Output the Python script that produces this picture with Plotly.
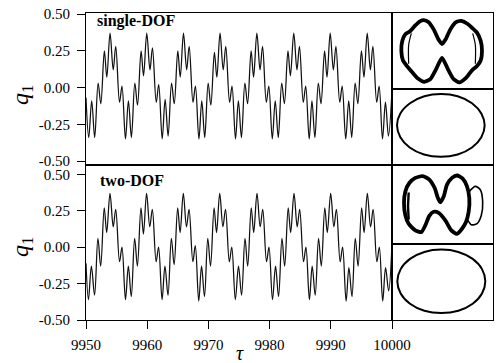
import plotly.graph_objects as go

# ---------------- data ----------------
tau_single = [
    9950.00, 9950.45, 9950.93, 9951.42, 9951.98, 9952.42, 9953.00, 9953.40, 9953.93, 9954.45, 9954.86, 9955.48, 9955.88, 9956.45,
    9956.93, 9957.42, 9957.98, 9958.42, 9959.00, 9959.40, 9959.93, 9960.45, 9960.86, 9961.48, 9961.88, 9962.45,
    9962.93, 9963.42, 9963.98, 9964.42, 9965.00, 9965.40, 9965.93, 9966.45, 9966.86, 9967.48, 9967.88, 9968.45,
    9968.92, 9969.40, 9969.96, 9970.40, 9970.98, 9971.38, 9971.90, 9972.42, 9972.84, 9973.46, 9973.86, 9974.43,
    9974.90, 9975.40, 9975.96, 9976.40, 9976.98, 9977.38, 9977.92, 9978.44, 9978.85, 9979.46, 9979.87, 9980.44,
    9980.92, 9981.42, 9981.98, 9982.42, 9983.00, 9983.40, 9983.95, 9984.47, 9984.88, 9985.50, 9985.90, 9986.47,
    9986.92, 9987.40, 9987.96, 9988.40, 9988.98, 9989.38, 9989.90, 9990.42, 9990.84, 9991.46, 9991.86, 9992.44,
    9992.93, 9993.42, 9993.98, 9994.42, 9995.00, 9995.42, 9995.95, 9996.47, 9996.88, 9997.50, 9997.90, 9998.45,
    9998.93, 9999.42, 10000.00,
]
q_single = [
    -0.07, -0.34, -0.09, -0.34, 0.03, -0.11, 0.25, 0.07, 0.37, 0.12, 0.28, -0.10, 0.01, -0.35,
    -0.09, -0.34, 0.03, -0.12, 0.25, 0.08, 0.37, 0.12, 0.27, -0.10, 0.02, -0.35,
    -0.08, -0.33, 0.03, -0.11, 0.25, 0.07, 0.37, 0.12, 0.28, -0.10, 0.01, -0.35,
    -0.09, -0.34, 0.03, -0.12, 0.24, 0.07, 0.37, 0.12, 0.28, -0.10, 0.01, -0.35,
    -0.09, -0.34, 0.03, -0.11, 0.25, 0.07, 0.37, 0.12, 0.28, -0.10, 0.01, -0.35,
    -0.09, -0.34, 0.03, -0.11, 0.25, 0.08, 0.37, 0.12, 0.28, -0.10, 0.01, -0.35,
    -0.09, -0.34, 0.03, -0.11, 0.25, 0.07, 0.37, 0.12, 0.28, -0.10, 0.01, -0.35,
    -0.09, -0.34, 0.03, -0.11, 0.25, 0.07, 0.37, 0.12, 0.28, -0.10, 0.01, -0.35,
    -0.10, -0.33, -0.02,
]

tau_two = [
    9950.00, 9950.40, 9950.88, 9951.40, 9951.95, 9952.40, 9952.98, 9953.38, 9953.92, 9954.45, 9954.86, 9955.48, 9955.88, 9956.45,
    9956.92, 9957.40, 9957.95, 9958.40, 9958.98, 9959.38, 9959.90, 9960.42, 9960.84, 9961.46, 9961.86, 9962.43,
    9962.90, 9963.40, 9963.95, 9964.40, 9964.98, 9965.38, 9965.90, 9966.42, 9966.84, 9967.46, 9967.86, 9968.42,
    9968.88, 9969.36, 9969.90, 9970.35, 9970.93, 9971.33, 9971.85, 9972.37, 9972.80, 9973.42, 9973.82, 9974.40,
    9974.92, 9975.42, 9975.98, 9976.42, 9977.00, 9977.40, 9977.94, 9978.46, 9978.88, 9979.50, 9979.90, 9980.47,
    9980.97, 9981.46, 9982.02, 9982.46, 9983.04, 9983.44, 9983.99, 9984.51, 9984.92, 9985.54, 9985.94, 9986.50,
    9986.96, 9987.45, 9988.00, 9988.45, 9989.02, 9989.43, 9989.98, 9990.50, 9990.92, 9991.53, 9991.93, 9992.50,
    9992.96, 9993.46, 9994.00, 9994.46, 9995.04, 9995.44, 9995.97, 9996.50, 9996.92, 9997.53, 9997.93, 9998.48,
    9998.95, 9999.45, 10000.00,
]
q_two = [
    -0.11, -0.36, -0.13, -0.33, 0.06, -0.13, 0.27, 0.10, 0.37, 0.14, 0.26, -0.10, 0.00, -0.36,
    -0.13, -0.34, 0.06, -0.13, 0.27, 0.09, 0.37, 0.14, 0.26, -0.10, 0.00, -0.36,
    -0.13, -0.33, 0.06, -0.12, 0.27, 0.10, 0.37, 0.14, 0.26, -0.10, 0.01, -0.37,
    -0.13, -0.34, 0.06, -0.13, 0.27, 0.10, 0.37, 0.14, 0.26, -0.10, 0.00, -0.36,
    -0.13, -0.33, 0.06, -0.13, 0.27, 0.10, 0.37, 0.14, 0.26, -0.10, 0.00, -0.36,
    -0.13, -0.34, 0.06, -0.13, 0.27, 0.10, 0.37, 0.14, 0.26, -0.10, 0.00, -0.36,
    -0.13, -0.33, 0.06, -0.13, 0.27, 0.10, 0.37, 0.14, 0.26, -0.10, 0.00, -0.37,
    -0.14, -0.34, 0.06, -0.13, 0.27, 0.10, 0.37, 0.14, 0.26, -0.10, 0.00, -0.37,
    -0.14, -0.30, 0.02,
]

# phase portraits (inset units)
pp1_x = [-1.05, -1.17, -1.22, -1.19, -1.10, -0.95, -0.80, -0.65, -0.55, -0.40, -0.25, -0.10, 0.00, 0.10, 0.25, 0.42,
         0.58, 0.75, 0.90, 1.05, 1.16, 1.20, 1.16, 1.05, 0.90, 0.72, 0.52, 0.35, 0.18, 0.00, -0.18, -0.35, -0.53,
         -0.72, -0.90, -1.05]
pp1_y = [-0.45, -0.28, 0.02, 0.32, 0.52, 0.62, 0.79, 0.92, 0.95, 0.89, 0.67, 0.35, 0.22, 0.35, 0.67, 0.89,
         0.93, 0.85, 0.72, 0.57, 0.32, 0.02, -0.28, -0.45, -0.58, -0.81, -0.95, -0.85, -0.55, -0.20, -0.55, -0.85, -0.93,
         -0.83, -0.63, -0.45]
pp1_in_x = [-0.92, -1.00, -1.00, None, 0.92, 1.00, 1.00]
pp1_in_y = [0.55, 0.20, -0.38, None, 0.55, 0.20, -0.38]

pp2_x = [-1.00, -1.10, -1.14, -1.10, -0.98, -0.80, -0.58, -0.38, -0.22, -0.12, -0.05, 0.05, 0.15, 0.30, 0.45, 0.62,
         0.75, 0.82, 0.80, 0.72, 0.60, 0.45, 0.28, 0.10, -0.10, -0.25, -0.38, -0.50, -0.62, -0.80, -1.00]
pp2_y = [-0.57, -0.32, 0.03, 0.38, 0.63, 0.78, 0.83, 0.73, 0.48, 0.18, 0.06, 0.23, 0.58, 0.78, 0.85, 0.76,
         0.53, 0.18, -0.22, -0.52, -0.72, -0.87, -0.77, -0.47, -0.25, -0.22, -0.34, -0.62, -0.82, -0.77, -0.57]
pp2_ear_x = [0.82, 1.00, 1.15, 1.22, 1.18, 1.05, 0.88, 0.78]
pp2_ear_y = [0.38, 0.53, 0.43, 0.08, -0.32, -0.57, -0.60, -0.47]
pp2_in_x = [-1.00, -1.02, -1.00]
pp2_in_y = [0.35, -0.05, -0.45]

ell1_x = [1.32, 1.22, 0.94, 0.51, 0.02, -0.49, -0.92, -1.21, -1.31, -1.21, -0.93, -0.50, 0.00, 0.51, 0.94, 1.22, 1.32]
ell1_y = [0.00, 0.36, 0.67, 0.88, 0.95, 0.88, 0.67, 0.36, 0.00, -0.36, -0.67, -0.88, -0.95, -0.88, -0.67, -0.36, 0.00]
ell2_x = [1.32, 1.22, 0.94, 0.51, 0.00, -0.51, -0.94, -1.22, -1.32, -1.22, -0.94, -0.51, 0.00, 0.51, 0.94, 1.22, 1.32]
ell2_y = [0.00, 0.37, 0.68, 0.89, 0.96, 0.89, 0.68, 0.37, 0.00, -0.37, -0.68, -0.89, -0.96, -0.89, -0.68, -0.37, 0.00]

x_ticks = [9950, 9960, 9970, 9980, 9990, 10000]
y_ticks = [-0.5, -0.25, 0.0, 0.25, 0.5]
y_ticktext = ["-0.50", "-0.25", "0.00", "0.25", "0.50"]

# ---------------- figure ----------------
W, H = 501, 363
def px(x):
    return x / W
def py(y):
    return 1 - y / H

XL, XR, XI = 86, 392, 493
Y0, YM, Y1 = 13, 165, 320

fig = go.Figure()
line_style = dict(color="#111111", width=1.25, shape="spline", smoothing=1.0)
fig.add_trace(go.Scatter(x=tau_single, y=q_single, mode="lines", line=line_style, xaxis="x", yaxis="y"))
fig.add_trace(go.Scatter(x=tau_two, y=q_two, mode="lines", line=line_style, xaxis="x2", yaxis="y2"))

band = dict(color="black", width=3.8, shape="spline", smoothing=0.6)
ear = dict(color="black", width=1.6, shape="spline", smoothing=0.8)
thin = dict(color="black", width=1.2, shape="spline", smoothing=0.8)
ell = dict(color="black", width=2.0, shape="spline", smoothing=1.0)
fig.add_trace(go.Scatter(x=pp1_x, y=pp1_y, mode="lines", line=band, xaxis="x3", yaxis="y3"))
fig.add_trace(go.Scatter(x=pp1_in_x, y=pp1_in_y, mode="lines", line=thin, xaxis="x3", yaxis="y3"))
fig.add_trace(go.Scatter(x=ell1_x, y=ell1_y, mode="lines", line=ell, xaxis="x4", yaxis="y4"))
fig.add_trace(go.Scatter(x=pp2_x, y=pp2_y, mode="lines", line=band, xaxis="x5", yaxis="y5"))
fig.add_trace(go.Scatter(x=pp2_ear_x, y=pp2_ear_y, mode="lines", line=ear, xaxis="x5", yaxis="y5"))
fig.add_trace(go.Scatter(x=pp2_in_x, y=pp2_in_y, mode="lines", line=dict(color="black", width=2.4), xaxis="x5", yaxis="y5"))
fig.add_trace(go.Scatter(x=ell2_x, y=ell2_y, mode="lines", line=ell, xaxis="x6", yaxis="y6"))

tickfont = dict(family="Liberation Serif", size=15, color="black")
box = dict(showline=True, mirror=True, linecolor="black", linewidth=1.2, showgrid=False, zeroline=False,
           automargin=False)
ytick = dict(tickvals=y_ticks, ticktext=y_ticktext, ticks="outside", ticklen=8, tickwidth=1.2, tickcolor="black",
             tickfont=tickfont, ticklabelstandoff=4)

fig.update_layout(
    template="none",
    width=W, height=H, margin=dict(l=0, r=0, t=0, b=0, pad=0), autosize=False,
    paper_bgcolor="white", plot_bgcolor="white", showlegend=False,
    xaxis=dict(domain=[px(XL), px(XR)], anchor="y", range=[9950, 10000], showticklabels=False, ticks="", **box),
    yaxis=dict(domain=[py(YM), py(Y0)], anchor="x", range=[-0.527, 0.507], **ytick, **box),
    xaxis2=dict(domain=[px(XL), px(XR)], anchor="y2", range=[9950, 10000], tickvals=x_ticks,
                ticktext=[str(v) for v in x_ticks], ticks="outside", ticklen=8, tickwidth=1.2, tickcolor="black",
                tickfont=tickfont, ticklabelstandoff=3, **box),
    yaxis2=dict(domain=[py(Y1), py(YM)], anchor="x2", range=[-0.5, 0.564], **ytick, **box),
    xaxis3=dict(domain=[px(XR), px(XI)], anchor="y3", range=[-1.5, 1.53], showticklabels=False, ticks="", **box),
    yaxis3=dict(domain=[py(89), py(Y0)], anchor="x3", range=[-1.15, 1.17], showticklabels=False, ticks="", **box),
    xaxis4=dict(domain=[px(XR), px(XI)], anchor="y4", range=[-1.46, 1.57], showticklabels=False, ticks="", **box),
    yaxis4=dict(domain=[py(YM), py(89)], anchor="x4", range=[-1.20, 1.10], showticklabels=False, ticks="", **box),
    xaxis5=dict(domain=[px(XR), px(XI)], anchor="y5", range=[-1.5, 1.53], showticklabels=False, ticks="", **box),
    yaxis5=dict(domain=[py(244), py(YM)], anchor="x5", range=[-1.17, 1.16], showticklabels=False, ticks="", **box),
    xaxis6=dict(domain=[px(XR), px(XI)], anchor="y6", range=[-1.48, 1.55], showticklabels=False, ticks="", **box),
    yaxis6=dict(domain=[py(Y1), py(244)], anchor="x6", range=[-1.17, 1.13], showticklabels=False, ticks="", **box),
    annotations=[
        dict(text="<b>single-DOF</b>", x=px(95), y=py(21), xref="paper", yref="paper", xanchor="left",
             yanchor="middle", showarrow=False, font=dict(family="Liberation Serif", size=16, color="black")),
        dict(text="<b>two-DOF</b>", x=px(98), y=py(180), xref="paper", yref="paper", xanchor="left",
             yanchor="middle", showarrow=False, font=dict(family="Liberation Serif", size=16, color="black")),
        dict(text="<i>q</i><sub>1</sub>", x=px(22), y=py(95), xref="paper", yref="paper", xanchor="center",
             yanchor="middle", textangle=-90, showarrow=False,
             font=dict(family="Liberation Serif", size=24, color="black")),
        dict(text="<i>q</i><sub>1</sub>", x=px(22), y=py(247), xref="paper", yref="paper", xanchor="center",
             yanchor="middle", textangle=-90, showarrow=False,
             font=dict(family="Liberation Serif", size=24, color="black")),
        dict(text="<i>τ</i>", x=px(240), y=py(353), xref="paper", yref="paper", xanchor="center",
             yanchor="middle", showarrow=False, borderpad=0,
             font=dict(family="Liberation Serif", size=20, color="black")),
    ],
)

fig.write_html("out.html", config={"displayModeBar": False},
               post_script="document.body.style.margin='0px';document.body.style.padding='0px';")
